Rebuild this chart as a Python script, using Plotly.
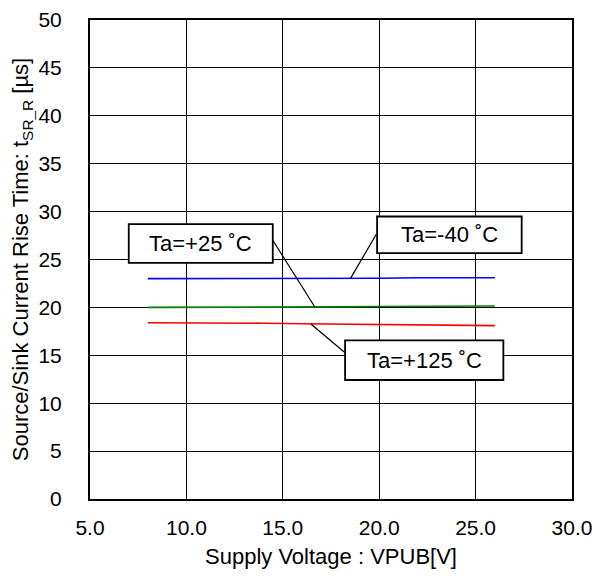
import plotly.graph_objects as go

# ---- data ----
vpub = [8, 10, 12, 14, 16, 18, 20, 22, 24, 26]
t_m40 = [23.0, 23.0, 23.0, 23.0, 23.0, 23.05, 23.05, 23.1, 23.1, 23.1]
t_p25 = [20.0, 20.0, 20.0, 20.0, 20.05, 20.05, 20.1, 20.1, 20.15, 20.15]
t_p125 = [18.4, 18.4, 18.4, 18.35, 18.3, 18.25, 18.2, 18.2, 18.15, 18.1]

series_names = ["Ta=-40 ˚C", "Ta=+25 ˚C", "Ta=+125 ˚C"]
series_colors = ["#0000FF", "#008000", "#FF0000"]

x_ticks = [5, 10, 15, 20, 25, 30]
x_tick_labels = ["5.0", "10.0", "15.0", "20.0", "25.0", "30.0"]
y_ticks = [0, 5, 10, 15, 20, 25, 30, 35, 40, 45, 50]

# label boxes: (text, box x0, x1, y0, y1, leader from (x,y) to (x,y))
labels = [
    ("Ta=+25 ˚C", 7.01, 14.48, 24.64, 28.70, (14.48, 27.01), (16.67, 20.02)),
    ("Ta=-40 ˚C", 19.89, 27.39, 25.67, 29.49, (19.85, 27.63), (18.52, 23.06)),
    ("Ta=+125 ˚C", 18.23, 26.44, 12.42, 16.55, (18.23, 15.27), (16.46, 18.26)),
]

FONT = "Arial, 'Liberation Sans', sans-serif"

fig = go.Figure()
for name, ys, col in zip(series_names, [t_m40, t_p25, t_p125], series_colors):
    fig.add_trace(go.Scatter(x=vpub, y=ys, mode="lines", name=name,
                             line=dict(color=col, width=1.6)))

shapes = []
annotations = []
for text, x0, x1, y0, y1, p0, p1 in labels:
    shapes.append(dict(type="line", xref="x", yref="y", x0=p0[0], y0=p0[1],
                       x1=p1[0], y1=p1[1], line=dict(color="black", width=1.2)))
    shapes.append(dict(type="rect", xref="x", yref="y", x0=x0, x1=x1, y0=y0, y1=y1,
                       fillcolor="white", line=dict(color="black", width=1.8)))
    annotations.append(dict(x=(x0 + x1) / 2, y=(y0 + y1) / 2, xref="x", yref="y",
                            text=text, showarrow=False,
                            font=dict(family=FONT, size=22, color="black"),
                            xanchor="center", yanchor="middle"))

# page body adds an 8px offset; the figure is sized so the plot lands where the reference has it
fig.update_layout(
    width=599, height=569,
    margin=dict(l=82, r=35, t=12, b=78, autoexpand=False),
    paper_bgcolor="white", plot_bgcolor="white",
    showlegend=False,
    font=dict(family=FONT, size=21, color="black"),
    shapes=shapes, annotations=annotations,
)
fig.update_xaxes(
    range=[5, 30], tickvals=x_ticks, ticktext=x_tick_labels,
    showgrid=True, gridcolor="black", gridwidth=1,
    showline=True, linecolor="black", linewidth=2, mirror=True,
    ticks="", ticklabelstandoff=9, zeroline=False, automargin=False,
    ticklabeloverflow="allow",
    tickfont=dict(size=21),
    title=dict(text="Supply Voltage : VPUB[V]", font=dict(size=22), standoff=10),
)
fig.update_yaxes(
    range=[0, 50], tickvals=y_ticks,
    showgrid=True, gridcolor="black", gridwidth=1,
    showline=True, linecolor="black", linewidth=2, mirror=True,
    ticks="", ticklabelstandoff=22, zeroline=False, automargin=False,
    ticklabeloverflow="allow",
    tickfont=dict(size=21),
    title=dict(text="Source/Sink Current Rise Time: t<sub>SR_R</sub> [µs]",
               font=dict(size=22), standoff=6),
)

fig.write_html("out.html")
